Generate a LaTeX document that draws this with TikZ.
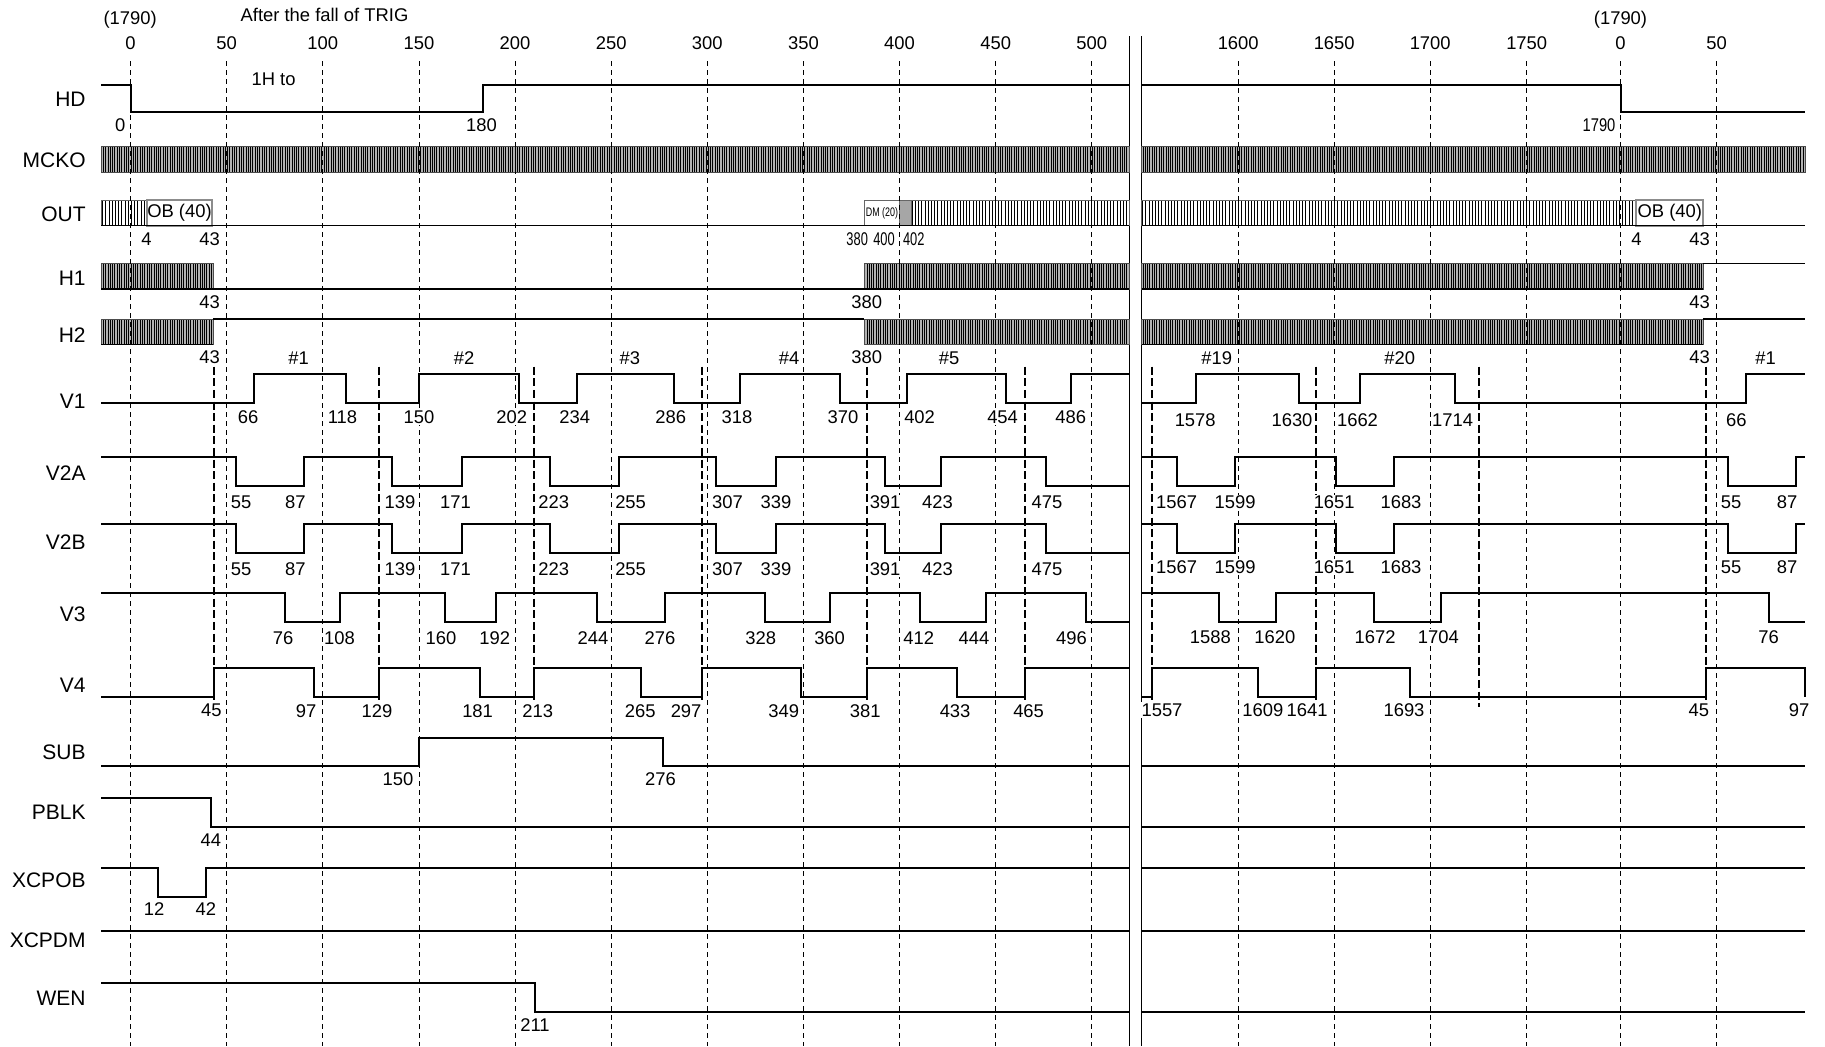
\documentclass[tikz,border=0pt]{standalone}
\usepackage{fontspec}
\setmainfont{Liberation Sans}
\usepackage{graphicx}
\usetikzlibrary{patterns.meta}

\tikzset{
  sig/.style={line width=1pt},
  base/.style={line width=0.6pt},
  gridline/.style={line width=0.4pt, dash pattern=on 2.5pt off 2pt},
  cutline/.style={line width=1pt, dash pattern=on 4pt off 1.8pt},
  signame/.style={anchor=east, inner sep=0pt, font=\fontsize{10.5}{12}\selectfont},
  num/.style={inner sep=0.6pt, fill=white, font=\fontsize{9.2}{11}\selectfont},
  clk/.style={draw=black!70, line width=0.4pt, preaction={fill=black!30},
    pattern={Lines[angle=90,distance=1.15pt,line width=0.5pt]}},
  hatch/.style={draw=black!60, line width=0.4pt, preaction={fill=white},
    pattern={Lines[angle=90,distance=1.6pt,line width=0.3pt]}},
  obbox/.style={draw=black!45, line width=1pt, fill=white},
  dmbox/.style={draw=black!60, line width=0.5pt, fill=white},
}

\begin{document}
\begin{tikzpicture}[x=0.5pt, y=-0.5pt]
\useasboundingbox (0,0) rectangle (1825,1046);

% header
\node[num] (wrapL) at (130.1,20) {(1790)};
\node[num] (trig) at (324.5,15) {After the fall of TRIG};
\node[num] (wrapR) at (1620.5,20) {(1790)};

% signal names
\node[signame] (HD) at (86,99) {HD};
\node[signame] (MCKO) at (86,160) {MCKO};
\node[signame] (OUT) at (86,214) {OUT};
\node[signame] (H1) at (86,278) {H1};
\node[signame] (H2) at (86,335) {H2};
\node[signame] (V1) at (86,401.7) {V1};
\node[signame] (V2A) at (86,473) {V2A};
\node[signame] (V2B) at (86,542) {V2B};
\node[signame] (V3) at (86,614) {V3};
\node[signame] (V4) at (86,685) {V4};
\node[signame] (SUB) at (86,752) {SUB};
\node[signame] (PBLK) at (86,812) {PBLK};
\node[signame] (XCPOB) at (86,880) {XCPOB};
\node[signame] (XCPDM) at (86,940) {XCPDM};
\node[signame] (WEN) at (86,998) {WEN};

% break
\draw[line width=0.6pt] (1129.3,36) -- (1129.3,1046);
\draw[line width=0.6pt] (1141.5,36) -- (1141.5,1046);

% MCKO
\draw[clk] (101,146.7) rectangle (1129.3,172.7);
\draw[clk] (1141.5,146.7) rectangle (1805,172.7);

% OUT
\draw[hatch] (101,200) rectangle (146.6,225.7);
\draw[obbox] (146.6,200) rectangle (212.4,225.7);
\node[num, fill=none] (ob1) at (179.5,212.8) {OB (40)};
\draw[dmbox] (864.4,200) rectangle (899.7,225.7);
\node[inner sep=0pt, font=\fontsize{6.2}{7}\selectfont] (dm) at (882,212.8) {\scalebox{0.72}[1]{DM (20)}};
\draw[draw=black!60, line width=0.5pt, fill=black!35] (899.7,200) rectangle (911,225.7);
\draw[hatch] (911,200) rectangle (1129.3,225.7);
\draw[hatch] (1141.5,200) rectangle (1636.4,225.7);
\draw[obbox] (1636.4,200) rectangle (1703.2,225.7);
\node[num, fill=none] (ob2) at (1669.8,212.8) {OB (40)};
\draw[base] (101,225.7) -- (1129.3,225.7);
\draw[base] (1141.5,225.7) -- (1805,225.7);

% H1
\draw[clk] (101,263.3) rectangle (213,289);
\draw[clk] (864.4,263.3) rectangle (1129.3,289);
\draw[base] (101,289) -- (1129.3,289);
\draw[clk] (1141.5,263.3) rectangle (1703.2,289);
\draw[base] (1141.5,289) -- (1703.2,289);
\draw[base] (1703.2,263.3) -- (1805,263.3);

% H2
\draw[clk] (101,319) rectangle (213,344.3);
\draw[clk] (864.4,319) rectangle (1129.3,344.3);
\draw[base] (101,344.3) -- (213,344.3);
\draw[base] (213,319) -- (864.4,319);
\draw[clk] (1141.5,319) rectangle (1703.2,344.3);
\draw[base] (1141.5,344.3) -- (1703.2,344.3);
\draw[base] (1703.2,319) -- (1805,319);

% grid
\draw[gridline] (130.5,61) -- (130.5,1046);
\draw[gridline] (226.6,61) -- (226.6,1046);
\draw[gridline] (322.8,61) -- (322.8,1046);
\draw[gridline] (418.9,61) -- (418.9,1046);
\draw[gridline] (515,61) -- (515,1046);
\draw[gridline] (611.2,61) -- (611.2,1046);
\draw[gridline] (707.3,61) -- (707.3,1046);
\draw[gridline] (803.4,61) -- (803.4,1046);
\draw[gridline] (899.5,61) -- (899.5,1046);
\draw[gridline] (995.7,61) -- (995.7,1046);
\draw[gridline] (1091.8,61) -- (1091.8,1046);
\draw[gridline] (1238.2,61) -- (1238.2,1046);
\draw[gridline] (1334.2,61) -- (1334.2,1046);
\draw[gridline] (1430.2,61) -- (1430.2,1046);
\draw[gridline] (1526.7,61) -- (1526.7,1046);
\draw[gridline] (1620.5,61) -- (1620.5,1046);
\draw[gridline] (1716.5,61) -- (1716.5,1046);
\node[num] (tk0) at (130.5,43.3) {0};
\node[num] (tk50) at (226.6,43.3) {50};
\node[num] (tk100) at (322.8,43.3) {100};
\node[num] (tk150) at (418.9,43.3) {150};
\node[num] (tk200) at (515,43.3) {200};
\node[num] (tk250) at (611.2,43.3) {250};
\node[num] (tk300) at (707.3,43.3) {300};
\node[num] (tk350) at (803.4,43.3) {350};
\node[num] (tk400) at (899.5,43.3) {400};
\node[num] (tk450) at (995.7,43.3) {450};
\node[num] (tk500) at (1091.8,43.3) {500};
\node[num] (tk1600) at (1238.2,43.3) {1600};
\node[num] (tk1650) at (1334.2,43.3) {1650};
\node[num] (tk1700) at (1430.2,43.3) {1700};
\node[num] (tk1750) at (1526.7,43.3) {1750};
\node[num] (tkR0) at (1620.5,43.3) {0};
\node[num] (tkR50) at (1716.5,43.3) {50};

% V boundaries
\draw[cutline] (213.9,366.7) -- (213.9,701);
\draw[cutline] (378.9,366.7) -- (378.9,701);
\draw[cutline] (534.2,366.7) -- (534.2,701);
\draw[cutline] (702.2,366.7) -- (702.2,701);
\draw[cutline] (866.7,366.7) -- (866.7,701);
\draw[cutline] (1024.8,366.7) -- (1024.8,701);
\draw[cutline] (1152.2,366.7) -- (1152.2,701);
\draw[cutline] (1315.7,366.7) -- (1315.7,701);
\draw[cutline] (1479.3,366.7) -- (1479.3,707);
\draw[cutline] (1705.7,366.7) -- (1705.7,701);

% HD
\draw[sig] (101,85) -| (130.5,112.3) -| (483,85) -- (1129.3,85);
\draw[sig] (1141.5,85) -| (1620.5,112.3) -- (1805,112.3);
\node[num] (hdnote) at (273.6,79) {1H to};
\node[num, anchor=east] (hd0) at (127,125) {0};
\node[num] (hd180) at (481.4,125) {180};
\node[num, anchor=east] (hd1790) at (1617,125) {\scalebox{0.8}[1]{1790}};

% OUT, H1, H2 numbers
\node[num] (out4) at (146.6,239.3) {4};
\node[num] (out43) at (209.7,239.3) {43};
\node[num, fill=none] (out380) at (857.2,239.3) {\scalebox{0.7}[1]{380}};
\node[num, fill=none] (out400) at (884,239.3) {\scalebox{0.7}[1]{400}};
\node[num, fill=none] (out402) at (913.8,239.3) {\scalebox{0.7}[1]{402}};
\node[num] (outR4) at (1636.4,239.3) {4};
\node[num] (outR43) at (1699.7,239.3) {43};
\node[num] (h1n43) at (209.7,301.7) {43};
\node[num] (h1n380) at (866.7,301.7) {380};
\node[num] (h1nR43) at (1699.7,301.7) {43};
\node[num] (h2n43) at (209.7,356.7) {43};
\node[num] (h2n380) at (866.7,356.7) {380};
\node[num] (h2nR43) at (1699.7,356.7) {43};

% fields
\node[num] (f1) at (298.5,358.3) {\#1};
\node[num] (f2) at (464.2,358.3) {\#2};
\node[num] (f3) at (629.9,358.3) {\#3};
\node[num] (f4) at (789,358.3) {\#4};
\node[num] (f5) at (949,358.3) {\#5};
\node[num] (f19) at (1216.7,358.3) {\#19};
\node[num] (f20) at (1399.7,358.3) {\#20};
\node[num] (fR1) at (1765.6,358.3) {\#1};

% V1
\draw[sig] (101,402.7) -| (253.7,374) -| (346.3,402.7) -| (419,374) -| (519.3,402.7) -| (577.1,374) -| (673.5,402.7) -| (739.7,374) -| (840.3,402.7) -| (906.5,374) -| (1005.7,402.7) -| (1070.7,374) -- (1129.3,374);
\draw[sig] (1141.5,402.7) -| (1196.1,374) -| (1298.5,402.7) -| (1359.6,374) -| (1454.8,402.7) -| (1746.2,374) -- (1805,374);
\node[num] (v1n66) at (248,417.3) {66};
\node[num] (v1n118) at (342.5,417.3) {118};
\node[num] (v1n150) at (419,417.3) {150};
\node[num] (v1n202) at (511.7,417.3) {202};
\node[num] (v1n234) at (574.8,417.3) {234};
\node[num] (v1n286) at (670.8,417.3) {286};
\node[num] (v1n318) at (737,417.3) {318};
\node[num] (v1n370) at (843,417.3) {370};
\node[num] (v1n402) at (919.6,417.3) {402};
\node[num] (v1n454) at (1002.6,417.3) {454};
\node[num] (v1n486) at (1070.7,417.3) {486};
\node[num] (v1n1578) at (1195.2,420) {1578};
\node[num] (v1n1630) at (1292,420) {1630};
\node[num] (v1n1662) at (1357.5,420) {1662};
\node[num] (v1n1714) at (1452.6,420) {1714};
\node[num] (v1nR66) at (1736.3,420) {66};

% V2A
\draw[sig] (101,457) -| (236.1,485.7) -| (304.2,457) -| (392.3,485.7) -| (461.9,457) -| (549.9,485.7) -| (618.8,457) -| (716.3,485.7) -| (776,457) -| (885.1,485.7) -| (941,457) -| (1046.2,485.7) -- (1129.3,485.7);
\draw[sig] (1141.5,457) -| (1177.1,485.7) -| (1235.2,457) -| (1336,485.7) -| (1394.1,457) -| (1727.7,485.7) -| (1795.7,457) -- (1805,457);
\node[num] (v2an55) at (241.1,502.3) {55};
\node[num] (v2an87) at (295.4,502.3) {87};
\node[num] (v2an139) at (400,502.3) {139};
\node[num] (v2an171) at (455.4,502.3) {171};
\node[num] (v2an223) at (553.8,502.3) {223};
\node[num] (v2an255) at (630.6,502.3) {255};
\node[num] (v2an307) at (727.4,502.3) {307};
\node[num] (v2an339) at (776,502.3) {339};
\node[num] (v2an391) at (885.1,502.3) {391};
\node[num] (v2an423) at (937.5,502.3) {423};
\node[num] (v2an475) at (1047,502.3) {475};
\node[num] (v2an1567) at (1176.7,502.3) {1567};
\node[num] (v2an1599) at (1235.2,502.3) {1599};
\node[num] (v2an1651) at (1334.2,502.3) {1651};
\node[num] (v2an1683) at (1401,502.3) {1683};
\node[num] (v2anR55) at (1731.2,502.3) {55};
\node[num] (v2anR87) at (1787.1,502.3) {87};

% V2B
\draw[sig] (101,524) -| (236.1,552.7) -| (304.2,524) -| (392.3,552.7) -| (461.9,524) -| (549.9,552.7) -| (618.8,524) -| (716.3,552.7) -| (776,524) -| (885.1,552.7) -| (941,524) -| (1046.2,552.7) -- (1129.3,552.7);
\draw[sig] (1141.5,524) -| (1177.1,552.7) -| (1235.2,524) -| (1336,552.7) -| (1394.1,524) -| (1727.7,552.7) -| (1795.7,524) -- (1805,524);
\node[num] (v2bn55) at (241.1,569) {55};
\node[num] (v2bn87) at (295.4,569) {87};
\node[num] (v2bn139) at (400,569) {139};
\node[num] (v2bn171) at (455.4,569) {171};
\node[num] (v2bn223) at (553.8,569) {223};
\node[num] (v2bn255) at (630.6,569) {255};
\node[num] (v2bn307) at (727.4,569) {307};
\node[num] (v2bn339) at (776,569) {339};
\node[num] (v2bn391) at (885.1,569) {391};
\node[num] (v2bn423) at (937.5,569) {423};
\node[num] (v2bn475) at (1047,569) {475};
\node[num] (v2bn1567) at (1176.7,567) {1567};
\node[num] (v2bn1599) at (1235.2,567) {1599};
\node[num] (v2bn1651) at (1334.2,567) {1651};
\node[num] (v2bn1683) at (1401,567) {1683};
\node[num] (v2bnR55) at (1731.2,567) {55};
\node[num] (v2bnR87) at (1787.1,567) {87};

% V3
\draw[sig] (101,593) -| (285.1,622) -| (339.5,593) -| (444.7,622) -| (495.6,593) -| (597,622) -| (665.1,593) -| (764.6,622) -| (830,593) -| (920.3,622) -| (985.8,593) -| (1086,622) -- (1129.3,622);
\draw[sig] (1141.5,593) -| (1218.9,622) -| (1275.7,593) -| (1373.9,622) -| (1440.6,593) -| (1768.6,622) -- (1805,622);
\node[num] (v3n76) at (283.2,637.7) {76};
\node[num] (v3n108) at (339.5,637.7) {108};
\node[num] (v3n160) at (440.9,637.7) {160};
\node[num] (v3n192) at (494.8,637.7) {192};
\node[num] (v3n244) at (593,637.7) {244};
\node[num] (v3n276) at (660,637.7) {276};
\node[num] (v3n328) at (760.7,637.7) {328};
\node[num] (v3n360) at (829.6,637.7) {360};
\node[num] (v3n412) at (918.8,637.7) {412};
\node[num] (v3n444) at (973.9,637.7) {444};
\node[num] (v3n496) at (1071.5,637.7) {496};
\node[num] (v3n1588) at (1210.3,636.7) {1588};
\node[num] (v3n1620) at (1274.8,636.7) {1620};
\node[num] (v3n1672) at (1375.1,636.7) {1672};
\node[num] (v3n1704) at (1438.4,636.7) {1704};
\node[num] (v3nR76) at (1768.6,636.7) {76};

% V4
\draw[sig] (101,696.7) -| (213.9,668) -| (313.8,696.7) -| (378.9,668) -| (479.5,696.7) -| (534.2,668) -| (641.3,696.7) -| (702.2,668) -| (800.9,696.7) -| (866.7,668) -| (956.7,696.7) -| (1024.8,668) -- (1129.3,668);
\draw[sig] (1141.5,696.7) -| (1152.2,668) -| (1257.6,696.7) -| (1315.7,668) -| (1409.6,696.7) -| (1705.7,668) -| (1805,696.7);
\node[num] (v4n45) at (211.3,710.7) {45};
\node[num] (v4n97) at (306.2,710.7) {97};
\node[num] (v4n129) at (377,710.7) {129};
\node[num] (v4n181) at (477.6,710.7) {181};
\node[num] (v4n213) at (537.7,710.7) {213};
\node[num] (v4n265) at (640.2,710.7) {265};
\node[num] (v4n297) at (686.1,710.7) {297};
\node[num] (v4n349) at (783.7,710.7) {349};
\node[num] (v4n381) at (865.2,710.7) {381};
\node[num] (v4n433) at (955.1,710.7) {433};
\node[num] (v4n465) at (1028.6,710.7) {465};
\node[num] (v4n1557) at (1162,710) {1557};
\node[num] (v4n1609) at (1262.8,710) {1609};
\node[num] (v4n1641) at (1307.1,710) {1641};
\node[num] (v4n1693) at (1404,710) {1693};
\node[num] (v4nR45) at (1698.9,710) {45};
\node[num] (v4nR97) at (1799.2,710) {97};

% SUB
\draw[sig] (101,766) -| (419,737.7) -| (663.1,766) -- (1129.3,766);
\draw[sig] (1141.5,766) -- (1805,766);
\node[num] (subn150) at (398,779.3) {150};
\node[num] (subn276) at (660.5,779.3) {276};

% PBLK
\draw[sig] (101,798) -| (210.5,826.7) -- (1129.3,826.7);
\draw[sig] (1141.5,826.7) -- (1805,826.7);
\node[num] (pblkn44) at (210.9,840) {44};

% XCPOB
\draw[sig] (101,868) -| (158,896.7) -| (205.9,868) -- (1129.3,868);
\draw[sig] (1141.5,868) -- (1805,868);
\node[num] (xcpobn12) at (154.2,909.3) {12};
\node[num] (xcpobn42) at (205.9,909.3) {42};

% XCPDM
\draw[sig] (101,930.7) -- (1129.3,930.7);
\draw[sig] (1141.5,930.7) -- (1805,930.7);

% WEN
\draw[sig] (101,982.7) -| (535,1012) -- (1129.3,1012);
\draw[sig] (1141.5,1012) -- (1805,1012);
\node[num] (wenn211) at (535,1025) {211};
\end{tikzpicture}
\end{document}
